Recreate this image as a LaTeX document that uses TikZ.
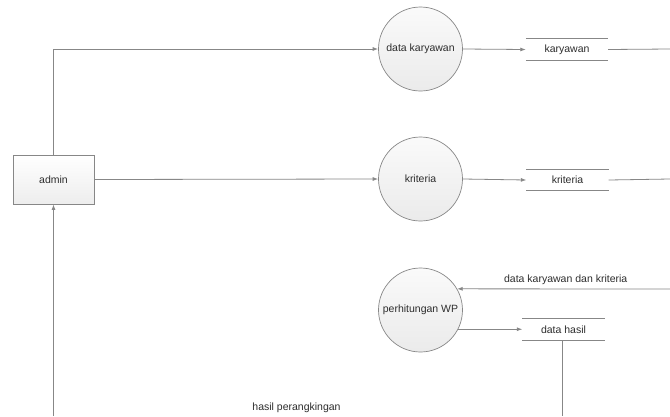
\documentclass[tikz,border=0pt]{standalone}
\usepackage{fontspec}
\setmainfont{Liberation Sans}
\usetikzlibrary{positioning}
\usetikzlibrary{arrows.meta}
\usetikzlibrary{shapes.geometric}

\definecolor{linegray}{RGB}{135,135,135}
\definecolor{textgray}{RGB}{45,45,45}

\tikzset{
    flow/.style={draw=linegray, line width=0.8pt, -{Latex[length=5.5pt,width=4pt]}},
    plainflow/.style={draw=linegray, line width=0.8pt},
    process/.style={circle, draw=linegray, line width=0.7pt, minimum size=84pt, inner sep=0pt,
        top color=gray!4, bottom color=gray!16, text=textgray, font=\fontsize{10.5}{12}\selectfont},
    entity/.style={rectangle, draw=linegray, line width=0.8pt, minimum width=81pt, minimum height=49pt,
        inner sep=0pt, top color=white, bottom color=gray!14, text=textgray, font=\fontsize{10.5}{12}\selectfont},
    datastore/.style={rectangle, minimum width=82pt, minimum height=21pt, inner sep=0pt,
        text=textgray, font=\fontsize{10.5}{12}\selectfont},
    flowlabel/.style={text=textgray, font=\fontsize{10.5}{12}\selectfont, inner sep=1pt}
}

\begin{document}
\begin{tikzpicture}[x=1pt, y=-1pt]
    \useasboundingbox[fill=white] (0,0) rectangle (670,416);

    % External entity and processes
    \node[entity] (admin) at (53.5,179.5) {admin};
    \node[process] (dk) at (420.5,49) {data karyawan};
    \node[process] (kr) at (420.5,179) {kriteria};
    \node[process] (wp) at (420.5,310) {perhitungan WP};

    % Data stores
    \node[datastore] (skar) at (567,49.5) {karyawan};
    \node[datastore] (skri) at (567.5,180) {kriteria};
    \node[datastore] (shas) at (563.5,329.5) {data hasil};
    \foreach \s in {skar,skri,shas} {
        \draw[plainflow] (\s.north west) -- (\s.north east);
        \draw[plainflow] (\s.south west) -- (\s.south east);
    }

    % Free ends at the picture border
    \coordinate (e1) at (670,49);
    \coordinate (e2) at (670,179);
    \coordinate (e3) at (670,289);
    \coordinate (b1) at (53.5,416);
    \coordinate (b2) at (562,416);

    % Flows from admin
    \draw[flow] (admin.north) |- (dk.west);
    \draw[flow] (admin.east) -- (kr.west);
    \draw[flow] (dk.east) -- (skar.west);
    \draw[flow] (kr.east) -- (skri.west);
    \draw[plainflow] (skar.east) -- (e1);
    \draw[plainflow] (skri.east) -- (e2);

    % Calculation
    \draw[flow] (e3) -- node[flowlabel, above=3pt, pos=0.49] {data karyawan dan kriteria} (wp.30);
    \draw[flow] (wp.-27) -- (wp.-27 -| shas.west);
    \draw[plainflow] (shas.south -| b2) -- (b2);
    \draw[flow] (b1) -- (admin.south);
    \node[flowlabel] (hp) at (296.5,408) {hasil perangkingan};
\end{tikzpicture}
\end{document}
